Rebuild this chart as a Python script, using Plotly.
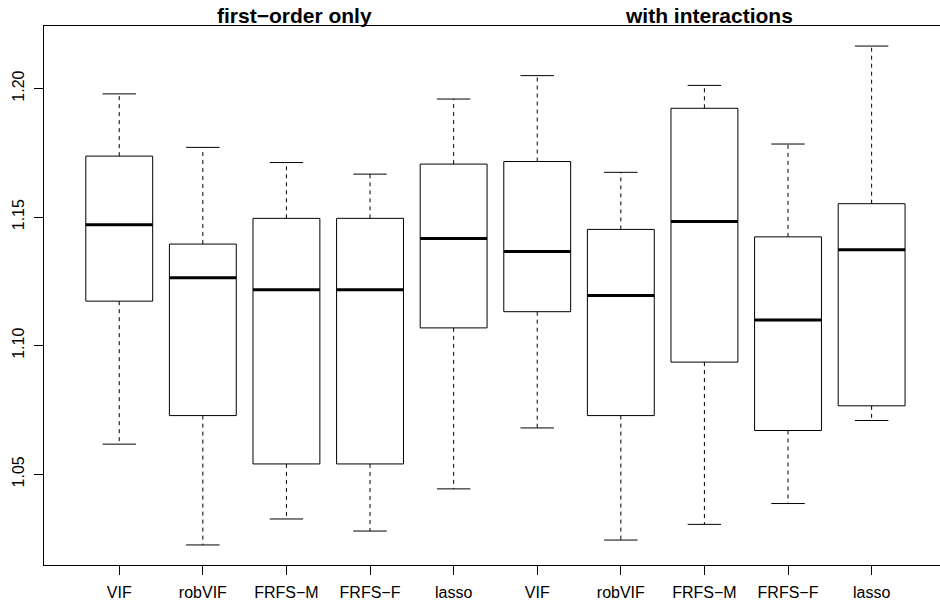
import plotly.graph_objects as go

labels = ["VIF", "robVIF", "FRFS\u2212M", "FRFS\u2212F", "lasso",
          "VIF", "robVIF", "FRFS\u2212M", "FRFS\u2212F", "lasso"]
lower_whisker = [1.0617, 1.0225, 1.0326, 1.0279, 1.0443, 1.0680, 1.0244, 1.0305, 1.0386, 1.0709]
q1 = [1.1173, 1.0728, 1.0540, 1.0540, 1.1069, 1.1132, 1.0728, 1.0936, 1.0670, 1.0766]
median = [1.1470, 1.1264, 1.1217, 1.1217, 1.1417, 1.1366, 1.1195, 1.1483, 1.1100, 1.1373]
q3 = [1.1737, 1.1395, 1.1495, 1.1495, 1.1706, 1.1716, 1.1452, 1.1923, 1.1423, 1.1552]
upper_whisker = [1.1979, 1.1771, 1.1712, 1.1667, 1.1959, 1.2050, 1.1674, 1.2012, 1.1784, 1.2165]
group_titles = ["first\u2212order only", "with interactions"]
yticks = [1.05, 1.10, 1.15, 1.20]

pos = list(range(1, len(labels) + 1))
hw = 0.4   # half box width (boxwex 0.8)
cw = 0.2   # half staple width

bx, by = [], []
mx, my = [], []
wx, wy = [], []
cx, cy = [], []
for p, lo, a, m, b, hi in zip(pos, lower_whisker, q1, median, q3, upper_whisker):
    bx += [p - hw, p + hw, p + hw, p - hw, p - hw, None]
    by += [a, a, b, b, a, None]
    mx += [p - hw, p + hw, None]
    my += [m, m, None]
    wx += [p, p, None, p, p, None]
    wy += [b, hi, None, a, lo, None]
    cx += [p - cw, p + cw, None, p - cw, p + cw, None]
    cy += [hi, hi, None, lo, lo, None]

fig = go.Figure()
fig.add_trace(go.Scatter(x=wx, y=wy, mode="lines", line=dict(color="black", width=1, dash="4px,4px"),
                         hoverinfo="skip", showlegend=False))
fig.add_trace(go.Scatter(x=cx, y=cy, mode="lines", line=dict(color="black", width=1),
                         hoverinfo="skip", showlegend=False))
fig.add_trace(go.Scatter(x=bx, y=by, mode="lines", line=dict(color="black", width=1),
                         hoverinfo="skip", showlegend=False))
fig.add_trace(go.Scatter(x=mx, y=my, mode="lines", line=dict(color="black", width=3),
                         hoverinfo="skip", showlegend=False))

font = dict(family="Liberation Sans, Arial, sans-serif", color="black")

fig.update_layout(
    width=940, height=602,
    margin=dict(l=44, r=0, t=26, b=37),
    paper_bgcolor="white", plot_bgcolor="white",
    showlegend=False,
    xaxis=dict(range=[0.1, 10.818], tickmode="array", tickvals=pos, ticktext=labels,
               ticks="outside", ticklen=9, tickcolor="black", tickwidth=1,
               showgrid=False, zeroline=False, showline=True, linecolor="black",
               linewidth=1, mirror=True, automargin=False, ticklabelstandoff=4,
               tickfont=dict(size=16, **font)),
    yaxis=dict(range=[1.0147, 1.2243], tickmode="array", tickvals=yticks,
               ticktext=[f"{v:.2f}" for v in yticks], tickangle=-90,
               ticks="outside", ticklen=9, tickcolor="black", tickwidth=1,
               showgrid=False, zeroline=False, showline=True, linecolor="black",
               linewidth=1, mirror=False, automargin=False, ticklabelstandoff=4,
               tickfont=dict(size=16, **font)),
)

for xpos, t in zip([3.1, 8.05], group_titles):
    fig.add_annotation(x=xpos, xref="x", y=1.0204, yref="paper", text=f"<b>{t}</b>",
                       showarrow=False, xanchor="center", yanchor="middle",
                       font=dict(size=21, **font))

fig.write_html("out.html", config={"displayModeBar": False},
               post_script="document.body.style.margin='0';document.body.style.overflow='hidden';")
